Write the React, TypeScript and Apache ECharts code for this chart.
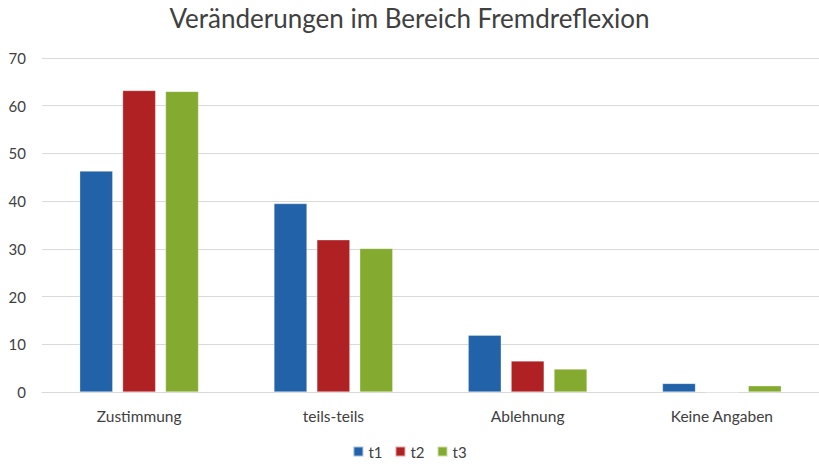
import React, { useEffect, useRef } from "react";
import * as echarts from "echarts";

const categories = ["Zustimmung", "teils-teils", "Ablehnung", "Keine Angaben"];
const t1 = [46.3, 39.5, 11.9, 1.8];
const t2 = [63.2, 31.9, 6.5, 0];
const t3 = [63.0, 30.1, 4.8, 1.3];
const seriesNames = ["t1", "t2", "t3"];
const colors = ["#2262A9", "#B02124", "#84AA2F"];

export default function App() {
  const ref = useRef<HTMLDivElement>(null);
  useEffect(() => {
    if (!ref.current) return;
    const chart = echarts.init(ref.current, null, { renderer: "svg" });
    const font = "Lato, 'Open Sans', sans-serif";
    const data = [t1, t2, t3];
    chart.setOption({
      animation: false,
      backgroundColor: "#ffffff",
      title: {
        text: "Veränderungen im Bereich Fremdreflexion",
        left: "center",
        top: 0,
        textStyle: { fontFamily: font, fontSize: 26, fontWeight: "normal", color: "#404040" },
      },
      legend: {
        bottom: 0,
        left: "center",
        itemWidth: 10,
        itemHeight: 10,
        itemGap: 12,
        icon: "rect",
        textStyle: { fontFamily: font, fontSize: 15, color: "#404040" },
        data: seriesNames,
      },
      grid: { left: 42, right: 0, top: 58, bottom: 72, containLabel: false },
      xAxis: {
        type: "category",
        data: categories,
        axisLine: { lineStyle: { color: "#d9d9d9" } },
        axisTick: { show: false },
        axisLabel: { fontFamily: font, fontSize: 15.5, color: "#404040", margin: 16 },
      },
      yAxis: {
        type: "value",
        min: 0,
        max: 70,
        interval: 10,
        axisLine: { show: false },
        axisTick: { show: false },
        splitLine: { lineStyle: { color: "#d9d9d9", width: 1 } },
        axisLabel: { fontFamily: font, fontSize: 15, color: "#404040", margin: 16 },
      },
      series: seriesNames.map((name, i) => ({
        name,
        type: "bar",
        data: data[i],
        barWidth: 33,
        barGap: "30%",
        itemStyle: { color: colors[i], borderColor: "rgba(255,255,255,0.6)", borderWidth: 0.5 },
      })),
    });
    return () => chart.dispose();
  }, []);
  return <div ref={ref} style={{ position: "fixed", left: 0, top: 0, width: 819, height: 464 }} />;
}
